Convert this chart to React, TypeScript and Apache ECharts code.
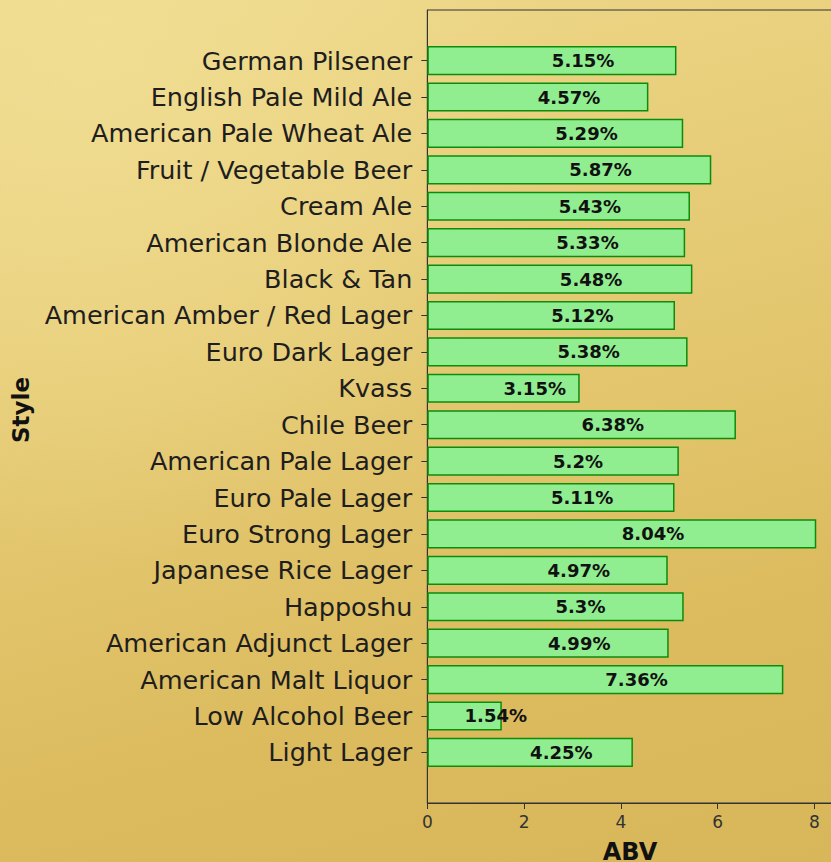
import React, { useEffect, useRef } from "react";
import * as echarts from "echarts";

const styles = [
  "German Pilsener",
  "English Pale Mild Ale",
  "American Pale Wheat Ale",
  "Fruit / Vegetable Beer",
  "Cream Ale",
  "American Blonde Ale",
  "Black & Tan",
  "American Amber / Red Lager",
  "Euro Dark Lager",
  "Kvass",
  "Chile Beer",
  "American Pale Lager",
  "Euro Pale Lager",
  "Euro Strong Lager",
  "Japanese Rice Lager",
  "Happoshu",
  "American Adjunct Lager",
  "American Malt Liquor",
  "Low Alcohol Beer",
  "Light Lager",
];

const abv = [
  5.15, 4.57, 5.29, 5.87, 5.43, 5.33, 5.48, 5.12, 5.38, 3.15, 6.38, 5.2, 5.11,
  8.04, 4.97, 5.3, 4.99, 7.36, 1.54, 4.25,
];

const xMin = 0;
const xMax = 8.442;
const xInterval = 2;

const FONT = "DejaVu Sans";

export default function App() {
  const ref = useRef<HTMLDivElement>(null);

  useEffect(() => {
    if (!ref.current) return;
    const chart = echarts.init(ref.current, undefined, { renderer: "svg" });
    const plotLeft = 427.3;
    const plotWidth = 408.4;
    const option: any = {
      animation: false,
      backgroundColor: "transparent",
      grid: [
        {
          left: plotLeft,
          top: 10,
          width: plotWidth,
          height: 793,
          show: true,
          borderColor: "#333",
          borderWidth: 1,
          backgroundColor: "transparent",
        },
        {
          left: plotLeft,
          top: 42.4,
          width: plotWidth,
          height: 728.2,
        },
      ],
      xAxis: [
        {
          gridIndex: 0,
          type: "value",
          min: xMin,
          max: xMax,
          interval: xInterval,
          splitLine: { show: false },
          axisLine: { show: true, lineStyle: { color: "#333", width: 1 } },
          axisTick: { show: true, length: 6, lineStyle: { color: "#333" } },
          axisLabel: {
            show: true,
            margin: 10,
            fontFamily: FONT,
            fontSize: 17,
            color: "#333",
            showMaxLabel: false,
            formatter: (v: number) => (Number.isInteger(v) ? String(v) : ""),
          },
        },
        {
          gridIndex: 1,
          type: "value",
          min: xMin,
          max: xMax,
          show: false,
        },
      ],
      yAxis: [
        {
          gridIndex: 0,
          type: "value",
          min: 0,
          max: 1,
          axisLine: { show: true, lineStyle: { color: "#333", width: 1 } },
          axisTick: { show: false },
          axisLabel: { show: false },
          splitLine: { show: false },
        },
        {
          gridIndex: 1,
          type: "category",
          data: styles,
          inverse: true,
          axisLine: { show: false },
          axisTick: {
            show: true,
            alignWithLabel: true,
            length: 6,
            lineStyle: { color: "#333" },
          },
          axisLabel: {
            margin: 15,
            fontFamily: FONT,
            fontSize: 25.5,
            color: "#1e1e1e",
          },
          splitLine: { show: false },
        },
      ],
      series: [
        {
          type: "bar",
          xAxisIndex: 1,
          yAxisIndex: 1,
          data: abv,
          barWidth: "80%",
          itemStyle: {
            color: "#90ee90",
            borderColor: "#0c8c0c",
            borderWidth: 1.5,
          },
          label: {
            show: true,
            position: ["50%", "50%"],
            align: "left",
            verticalAlign: "middle",
            fontFamily: FONT,
            fontWeight: "bold",
            fontSize: 18,
            color: "#111",
            formatter: (p: any) => `${p.value}%`,
          },
        },
      ],
      graphic: [
        {
          type: "text",
          x: 630,
          y: 852,
          style: {
            text: "ABV",
            fontFamily: FONT,
            fontWeight: "bold",
            fontSize: 24,
            fill: "#111",
            align: "center",
            verticalAlign: "middle",
          },
        },
        {
          type: "text",
          x: 21,
          y: 410,
          rotation: Math.PI / 2,
          style: {
            text: "Style",
            fontFamily: FONT,
            fontWeight: "bold",
            fontSize: 23,
            fill: "#111",
            align: "center",
            verticalAlign: "middle",
          },
        },
      ],
    };
    chart.setOption(option);
    return () => chart.dispose();
  }, []);

  return (
    <div
      style={{
        position: "fixed",
        left: 0,
        top: 0,
        width: 831,
        height: 862,
        overflow: "hidden",
        background:
          "radial-gradient(ellipse at 12% 5%, rgba(242,224,150,0.7) 0%, rgba(242,224,150,0) 45%), linear-gradient(165deg, #eed98c 0%, #e5ca74 40%, #dcbb5e 75%, #d8b75a 100%)",
      }}
    >
      <div ref={ref} style={{ width: 880, height: 862 }} />
    </div>
  );
}
